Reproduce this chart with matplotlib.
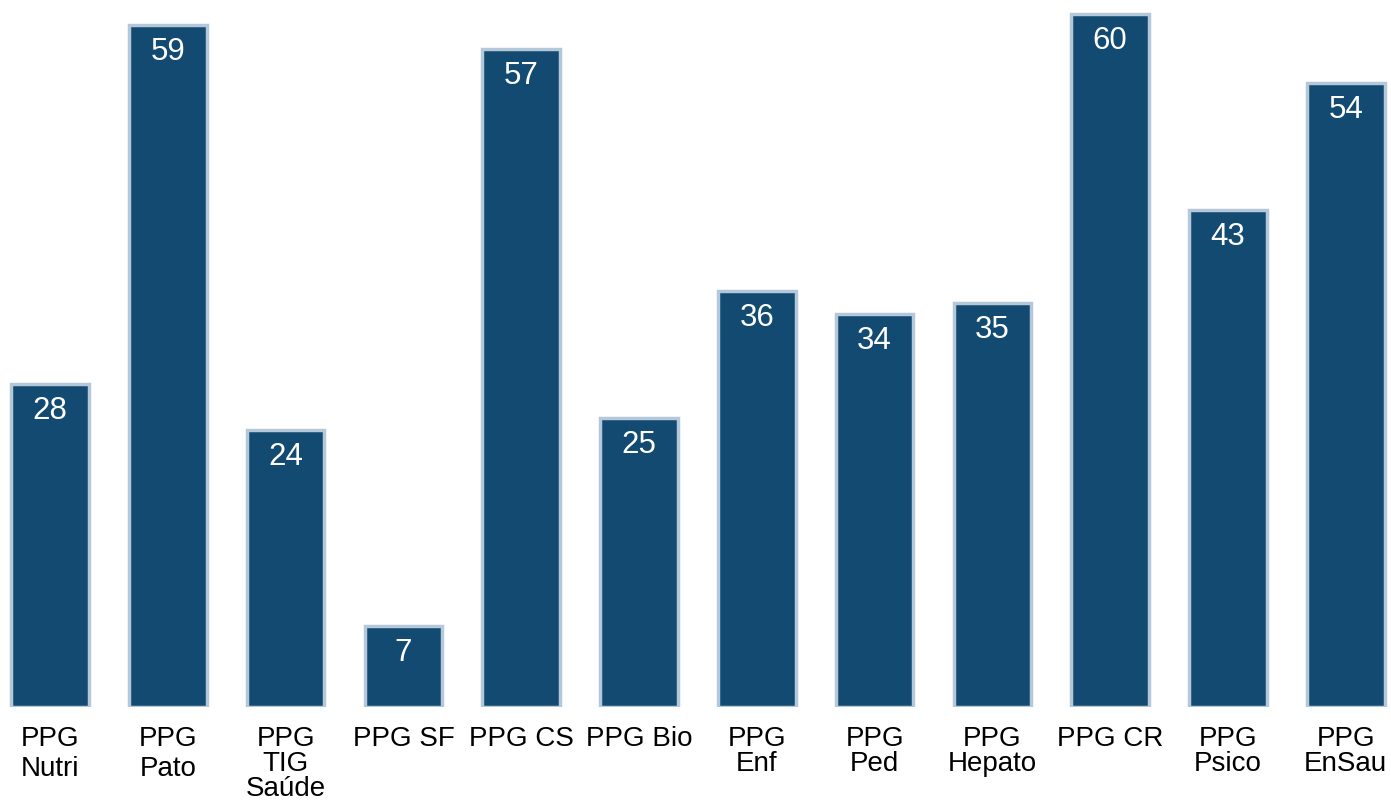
import matplotlib
matplotlib.use("Agg")
import matplotlib.pyplot as plt

# Dados do gráfico
programas = ["PPG\nNutri", "PPG\nPato", "PPG\nTIG\nSaúde", "PPG SF", "PPG CS", "PPG Bio",
             "PPG\nEnf", "PPG\nPed", "PPG\nHepato", "PPG CR", "PPG\nPsico", "PPG\nEnSau"]
valores = [28, 59, 24, 7, 57, 25, 36, 34, 35, 60, 43, 54]

cor_barra = "#124a72"
cor_borda = "#b4c8d9"

plt.rcParams["font.family"] = ["Liberation Sans", "DejaVu Sans"]

fig = plt.figure(figsize=(13.91, 8.01), dpi=100)
ax = fig.add_axes([0, 0.1174, 1, 0.8826])

x = list(range(len(valores)))
ax.bar(x, valores, width=0.66, color=cor_barra, edgecolor=cor_borda, linewidth=2.5)

# Valores dentro das barras
for xi, v in zip(x, valores):
    ax.annotate(str(v), (xi, v), xytext=(0, -27), textcoords="offset pixels",
                ha="center", va="center", color="white", fontsize=22.5)

ax.set_xlim(-0.4245, 11.384)
ax.set_ylim(0, 61.2)
ax.set_xticks(x)
ax.set_xticklabels(programas, fontsize=20)
ax.tick_params(axis="x", length=0, pad=14)
for i, lbl in enumerate(ax.get_xticklabels()):
    lbl.set_linespacing(1.2 if i < 2 else 0.93)
ax.set_yticks([])
for s in ax.spines.values():
    s.set_visible(False)

fig.savefig("out.png", dpi=100)
